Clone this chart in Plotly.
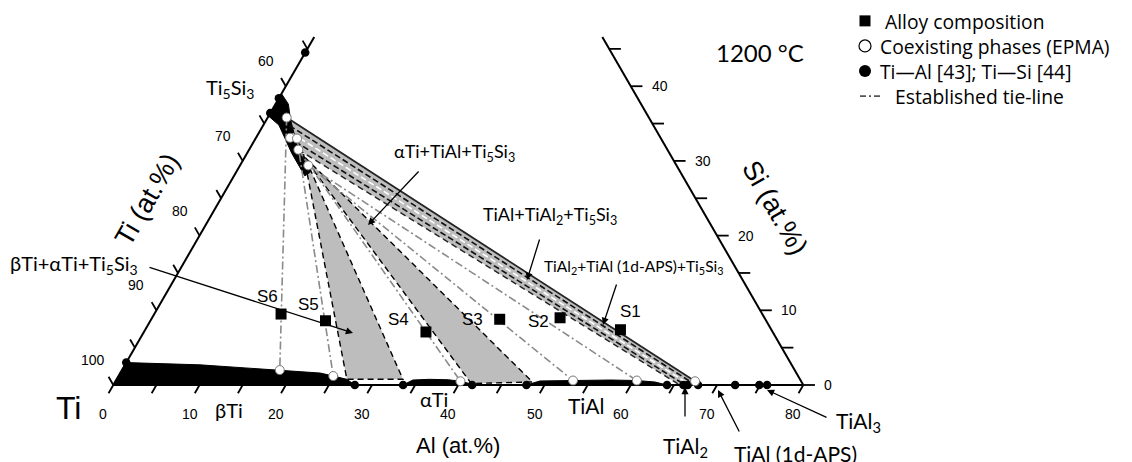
import math
import plotly.graph_objects as go

H = math.sqrt(3) / 2

# ---------------- data (compositions in at.%: Al, Si; Ti = balance) ----------------
alloy_labels = ["S1", "S2", "S3", "S4", "S5", "S6"]
alloy_al = [55.1, 47.3, 40.4, 32.7, 20.3, 14.7]
alloy_si = [7.4, 9.0, 8.8, 7.1, 8.6, 9.5]

# coexisting phases (EPMA)
epma_al = [2.2, 3.95, 4.8, 5.7, 7.9, 18.3, 24.9, 40.0, 53.0, 60.4, 67.2]
epma_si = [35.8, 33.1, 33.0, 31.5, 29.4, 2.0, 1.2, 0.5, 0.6, 0.6, 0.5]

# binary data: Ti-Si [44] (Al = 0) and Ti-Al [43] (Si = 0)
bin_al = [0, 0, 0, 0, 28.0, 33.6, 41.6, 47.9, 64.2, 66.1, 66.6, 67.8, 72.1, 74.9, 75.8]
bin_si = [3.0, 36.4, 38.4, 44.5, 0, 0, 0, 0, 0, 0, 0, 0, 0, 0, 0]

# established tie-lines: Ti5Si3 end -> other phase end
tie_a_al = [2.2, 4.8, 5.7, 7.9, 7.9]
tie_a_si = [35.8, 33.0, 31.5, 29.4, 29.4]
tie_b_al = [18.3, 24.9, 40.0, 53.0, 60.4]
tie_b_si = [2.0, 1.2, 0.5, 0.6, 0.6]

# three-phase triangles (gray)
tri1_al = [6.6, 26.7, 33.2]
tri1_si = [30.9, 0.76, 0.76]
tri2_al = [6.4, 41.4, 48.4]
tri2_si = [30.9, 0.2, 0.4]

# narrow band: TiAl+TiAl2+Ti5Si3 / TiAl2+TiAl(1d-APS)+Ti5Si3
band_top_al = [2.2, 67.2]
band_top_si = [35.8, 0.5]
band_low_al = [5.7, 65.5]
band_low_si = [31.5, 0.1]

# single-phase regions (black)
beta_al = [0, 0, 8.7, 18.3, 23.2, 24.9, 26.7, 28.0]
beta_si = [0, 3.0, 2.7, 2.0, 1.6, 1.2, 0.76, 0]
alpha_al = [33.6, 34.4, 36.3, 38.5, 40.0, 41.0, 41.6]
alpha_si = [0, 0.67, 0.76, 0.7, 0.5, 0.25, 0]
tial_al = [47.9, 49.2, 53.0, 57.3, 60.4, 62.6, 64.2]
tial_si = [0, 0.54, 0.6, 0.67, 0.6, 0.4, 0]
ti5si3_al = [0, 1.5, 2.8, 4.4, 5.9, 7.5, 8.6, 8.2, 7.0, 5.2, 3.5, 1.8, 0]
ti5si3_si = [39.0, 37.6, 35.5, 33.3, 31.4, 29.6, 28.5, 28.0, 29.2, 31.0, 32.9, 34.8, 36.0]

# axes ticks
al_tick_vals = list(range(0, 81, 5))
al_label_vals = list(range(0, 81, 10))
si_tick_vals = list(range(0, 46, 5))
ti_label_vals = [100, 90, 80, 70, 60]
si_label_vals = [0, 10, 20, 30, 40]
SI_MAX = 46.6   # visible extent of the side axes
AL_RIGHT = 80   # right axis = Ti 20 at.% line

legend_names = ["Alloy composition", "Coexisting phases (EPMA)",
                "Ti\u2014Al [43]; Ti\u2014Si [44]", "Established tie-line"]


# ---------------- helpers ----------------
def X(al, si):
    return al + si / 2.0


def Y(si):
    return si * H


def xs(als, sis):
    return [X(a, s) for a, s in zip(als, sis)]


def ys(sis):
    return [Y(s) for s in sis]


# page-pixel -> data mapping (page has an 8 px body margin)
SCALE = 8.625
OX, OY = 113.3, 385.0
PAGE_W, PAGE_H = 1132, 462
M = 8
W, HT = PAGE_W - M, PAGE_H - M


def d(px, py):
    return (px - OX) / SCALE, (OY - py) / SCALE


fig = go.Figure()

GRAY = "#bdbdbd"
NOH = dict(showlegend=False, hoverinfo="skip")

# gray triangles
for al, si in [(tri1_al, tri1_si), (tri2_al, tri2_si)]:
    fig.add_trace(go.Scatter(x=xs(al + al[:1], si + si[:1]), y=ys(si + si[:1]), fill="toself",
                             fillcolor=GRAY, mode="lines", line=dict(color="black", width=1.4, dash="6px,4px"),
                             **NOH))
band_al = band_top_al + band_low_al[::-1]
band_si = band_top_si + band_low_si[::-1]
fig.add_trace(go.Scatter(x=xs(band_al, band_si), y=ys(band_si), fill="toself", fillcolor=GRAY,
                         mode="none", **NOH))

# black single-phase regions
for al, si in [(beta_al, beta_si), (alpha_al, alpha_si), (tial_al, tial_si), (ti5si3_al, ti5si3_si)]:
    fig.add_trace(go.Scatter(x=xs(al, si), y=ys(si), fill="toself", fillcolor="black",
                             mode="lines", line=dict(color="black", width=1), **NOH))

# band lines
fig.add_trace(go.Scatter(x=xs(band_top_al, band_top_si), y=ys(band_top_si), mode="lines",
                         line=dict(color="#222", width=1.8), **NOH))
fig.add_trace(go.Scatter(x=xs(band_low_al, band_low_si), y=ys(band_low_si), mode="lines",
                         line=dict(color="#222", width=1.4, dash="6px,4px"), **NOH))
for f, col in [(0.25, "#111"), (0.5, "white"), (0.75, "#111")]:
    a0 = band_top_al[0] + f * (band_low_al[0] - band_top_al[0])
    s0 = band_top_si[0] + f * (band_low_si[0] - band_top_si[0])
    a1 = band_top_al[1] + f * (band_low_al[1] - band_top_al[1])
    s1 = band_top_si[1] + f * (band_low_si[1] - band_top_si[1])
    fig.add_trace(go.Scatter(x=[X(a0, s0), X(a1, s1)], y=[Y(s0), Y(s1)], mode="lines",
                             line=dict(color=col, width=1.6, dash="6px,3px"), **NOH))

# tie lines
tx, ty = [], []
for a0, s0, a1, s1 in zip(tie_a_al, tie_a_si, tie_b_al, tie_b_si):
    tx += [X(a0, s0), X(a1, s1), None]
    ty += [Y(s0), Y(s1), None]
fig.add_trace(go.Scatter(x=tx, y=ty, mode="lines", line=dict(color="#8a8a8a", width=1.6, dash="8px,3px,2px,3px"),
                         **NOH))

# axes lines
ax_x = [X(0, 0), X(AL_RIGHT, 0), None, X(0, 0), X(0, SI_MAX), None, X(AL_RIGHT, 0), X(AL_RIGHT - SI_MAX, SI_MAX)]
ax_y = [0, 0, None, 0, Y(SI_MAX), None, 0, Y(SI_MAX)]
fig.add_trace(go.Scatter(x=ax_x, y=ax_y, mode="lines", line=dict(color="black", width=2), **NOH))

# ticks
L = 1.1
kx, ky = [], []
for a in al_tick_vals:
    x0, y0 = X(a, 0), 0
    kx += [x0, x0 - 0.5 * L, None]
    ky += [y0, y0 - H * L, None]
for s in si_tick_vals:
    x0, y0 = X(0, s), Y(s)
    kx += [x0, x0 - 0.5 * L, None]
    ky += [y0, y0 + H * L, None]
    x0, y0 = X(AL_RIGHT - s, s), Y(s)
    kx += [x0, x0 + 1.35, None]
    ky += [y0, y0, None]
fig.add_trace(go.Scatter(x=kx, y=ky, mode="lines", line=dict(color="black", width=1.8), **NOH))

# markers
DOT = dict(symbol="circle", size=8.5, color="black")
OPEN = dict(symbol="circle", size=9, color="white", line=dict(color="#777", width=1))
SQ = dict(symbol="square", size=11, color="black")
fig.add_trace(go.Scatter(x=xs(bin_al, bin_si), y=ys(bin_si), mode="markers", marker=DOT, **NOH))
fig.add_trace(go.Scatter(x=xs(epma_al, epma_si), y=ys(epma_si), mode="markers", marker=OPEN, **NOH))
fig.add_trace(go.Scatter(x=xs(alloy_al, alloy_si), y=ys(alloy_si), mode="markers", marker=SQ, **NOH))

ann = []
ARIAL = "Liberation Sans, Arial, sans-serif"
CAL = "Lato, sans-serif"
KEYFONT = "Open Sans, sans-serif"


def text(px, py, t, size, font=CAL, angle=0, xanchor="center", align="center"):
    x, y = d(px, py)
    ann.append(dict(x=x, y=y, xref="x", yref="y", text=t, showarrow=False, textangle=angle, align=align,
                    font=dict(family=font, size=size, color="black"), xanchor=xanchor, yanchor="middle"))


def arrow(tail, tip):
    x, y = d(*tip)
    ann.append(dict(x=x, y=y, xref="x", yref="y", ax=tail[0] - tip[0], ay=tail[1] - tip[1],
                    axref="pixel", ayref="pixel", text="", showarrow=True, arrowhead=2, arrowsize=1.1,
                    arrowwidth=1.3, arrowcolor="black", standoff=0, startstandoff=0))


# legend (drawn as a key at the top right, one multi-line text block)
KEY_SIZE = 19.3
KEY_LH = 1.3 * KEY_SIZE
KEY_MID = 58.5
key_rows = [KEY_MID + (k - 1.5) * KEY_LH for k in range(4)]
key_x = 865
for row, mk in zip(key_rows[:3],
                   [dict(symbol="square", size=11, color="black"),
                    dict(symbol="circle", size=12, color="white", line=dict(color="black", width=1.2)),
                    dict(symbol="circle", size=12, color="black")]):
    kx0, ky0 = d(key_x, row)
    fig.add_trace(go.Scatter(x=[kx0], y=[ky0], mode="markers", marker=mk, **NOH))
lx0, ly0 = d(key_x - 5, key_rows[3])
lx1, _ = d(key_x + 16, key_rows[3])
fig.add_trace(go.Scatter(x=[lx0, lx1], y=[ly0, ly0], mode="lines",
                         line=dict(color="#555", width=1.6, dash="6px,3px,2px,3px"), **NOH))
NB = "\u00a0"
key_text = "<br>".join([NB + legend_names[0], legend_names[1], legend_names[2], NB * 3 + legend_names[3]])
text(878, KEY_MID, key_text, KEY_SIZE, KEYFONT, xanchor="left", align="left")

# tick labels
for a in al_label_vals:
    ann.append(dict(x=X(a, 0), y=0, xref="x", yref="y", text=str(a), showarrow=False, xshift=-10, yshift=-29,
                    font=dict(family=ARIAL, size=14, color="black")))
for t in ti_label_vals:
    s = 100 - t
    ann.append(dict(x=X(0, s), y=Y(s), xref="x", yref="y", text=str(t), showarrow=False, xshift=-20, yshift=25,
                    font=dict(family=ARIAL, size=14, color="black")))
for s in si_label_vals:
    ann.append(dict(x=X(AL_RIGHT - s, s), y=Y(s), xref="x", yref="y", text=str(s), showarrow=False,
                    xanchor="left", xshift=19, font=dict(family=ARIAL, size=14, color="black")))

# S labels
s_shift = [(10, 18), (-22, -4), (-27, 0), (-27, 12), (-17, 16), (-14, 18)]
for lab, a, s, (dx, dy) in zip(alloy_labels, alloy_al, alloy_si, s_shift):
    ann.append(dict(x=X(a, s), y=Y(s), xref="x", yref="y", text=lab, showarrow=False, xshift=dx, yshift=dy,
                    font=dict(family=ARIAL, size=17, color="black")))

# axis titles and labels
text(68, 408, "Ti", 32, ARIAL)
text(229, 410, "\u03b2Ti", 20)
text(434, 399, "\u03b1Ti", 20)
text(586, 405, "TiAl", 21)
text(458, 445, "Al (at.%)", 22, ARIAL)
text(147, 200, "Ti (at.%)", 27, ARIAL, -60)
text(775, 208, "Si (at.%)", 27, ARIAL, 60)
text(760, 52, "1200 \u00b0C", 24)
text(230, 88, "Ti<sub>5</sub>Si<sub>3</sub>", 20)
text(685, 447, "TiAl<sub>2</sub>", 21)
text(795, 453, "TiAl (1d-APS)", 21)
text(858, 422, "TiAl<sub>3</sub>", 21)
text(74, 264, "\u03b2Ti+\u03b1Ti+Ti<sub>5</sub>Si<sub>3</sub>", 20)
text(454, 152, "\u03b1Ti+TiAl+Ti<sub>5</sub>Si<sub>3</sub>", 18)
text(550, 215, "TiAl+TiAl<sub>2</sub>+Ti<sub>5</sub>Si<sub>3</sub>", 18)
text(633, 267, "TiAl<sub>2</sub>+TiAl (1d-APS)+Ti<sub>5</sub>Si<sub>3</sub>", 15.5)

arrow((148, 267), (353, 333))
arrow((420, 170), (368, 225))
arrow((540, 238), (527, 280))
arrow((617, 283), (603, 325))
arrow((685, 418), (685, 387))
arrow((740, 433), (718, 390))
arrow((828, 418), (767, 390))

x_lo, y_hi = d(M, M)
x_hi, y_lo = d(PAGE_W, PAGE_H)
fig.update_layout(
    width=W, height=HT, margin=dict(l=0, r=0, t=0, b=0),
    paper_bgcolor="white", plot_bgcolor="white",
    xaxis=dict(range=[x_lo, x_hi], visible=False, fixedrange=True),
    yaxis=dict(range=[y_lo, y_hi], visible=False, fixedrange=True),
    annotations=ann,
    showlegend=False,
)
fig.write_html("out.html")
